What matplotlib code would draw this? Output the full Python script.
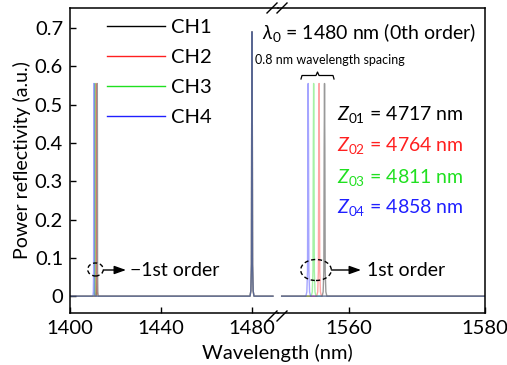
import numpy as np
import matplotlib.pyplot as plt
from matplotlib.patches import Ellipse
from matplotlib.lines import Line2D

plt.rcParams["font.family"] = ["Lato", "DejaVu Sans"]
plt.rcParams["mathtext.fontset"] = "custom"
plt.rcParams["mathtext.rm"] = "Lato"
plt.rcParams["mathtext.it"] = "Lato:italic"

W, H = 507, 365

channels = ["CH1", "CH2", "CH3", "CH4"]
colors = ["#000000", "#ff2020", "#20e020", "#2020ff"]
z_labels = ["01", "02", "03", "04"]
z_periods = [4717, 4764, 4811, 4858]

# peak centres (nm) and heights for each diffraction order, CH1..CH4
centers_m1 = [1412.0, 1411.5, 1411.0, 1410.5]
centers_0 = [1480.0, 1480.0, 1480.0, 1480.0]
centers_p1 = [1556.4, 1555.6, 1554.8, 1554.0]
height_m1 = [0.555, 0.555, 0.555, 0.555]
height_0 = [0.69, 0.69, 0.69, 0.69]
height_p1 = [0.555, 0.555, 0.555, 0.555]

# peak profile: offset from centre (nm), fraction of peak
shape_dx = [-0.35, -0.2, -0.1, -0.05, 0.0, 0.05, 0.1, 0.2, 0.35]
shape_y = [0.0, 0.02, 0.12, 0.7, 1.0, 0.7, 0.12, 0.02, 0.0]
width_m1, width_0, width_p1 = 1.2, 2.5, 1.0

left_range = (1400.0, 1489.2)
right_range = (1550.1, 1580.0)

yticks = [0, 0.1, 0.2, 0.3, 0.4, 0.5, 0.6, 0.7]
ytick_labels = ["0", "0.1", "0.2", "0.3", "0.4", "0.5", "0.6", "0.7"]
xticks_left = [1400, 1440, 1480]
xticks_right = [1560, 1580]


def fx(x):
    return x / W


def fy(y):
    return 1 - y / H


def peak(c, h, w):
    xs = [c + w * d for d in shape_dx]
    ys = [h * s for s in shape_y]
    return xs, ys


fig = plt.figure(figsize=(W / 100, H / 100), dpi=100)
x_split = 278
ax1 = fig.add_axes([fx(70), fy(313), fx(x_split - 70), (313 - 8) / H])
ax2 = fig.add_axes([fx(x_split), fy(313), fx(485 - x_split), (313 - 8) / H], sharey=ax1)
ax1.set_facecolor("none")
ax2.set_facecolor("none")

for i, ch in enumerate(channels):
    xm, ym = peak(centers_m1[i], height_m1[i], width_m1)
    x0, y0 = peak(centers_0[i], height_0[i], width_0)
    xl = [left_range[0]] + xm + x0 + [left_range[1]]
    yl = [0.0] + ym + y0 + [0.0]
    ax1.plot(xl, yl, color=colors[i], lw=1.0, alpha=0.4, label=ch)
    xp, yp = peak(centers_p1[i], height_p1[i], width_p1)
    xr = [right_range[0]] + xp + [right_range[1]]
    yr = [0.0] + yp + [0.0]
    ax2.plot(xr, yr, color=colors[i], lw=1.0, alpha=0.4)

ax1.set_xlim(1400, 1400 + (x_split - 70) / 2.275)
ax2.set_xlim(1560 - (349 - x_split) / 6.8, 1580)
ax1.set_ylim(-0.044, 0.752)

for ax in (ax1, ax2):
    for s in ax.spines.values():
        s.set_linewidth(1.1)
    ax.tick_params(direction="in", length=4, width=1.0, labelsize=14.5, top=False, right=False)
ax1.spines["right"].set_visible(False)
ax2.spines["left"].set_visible(False)
ax2.tick_params(axis="y", left=False, labelleft=False)
ax1.set_yticks(yticks)
ax1.set_yticklabels(ytick_labels)
ax1.set_xticks(xticks_left)
ax1.set_xticklabels([str(t) for t in xticks_left])
ax2.set_xticks(xticks_right)
ax2.set_xticklabels([str(t) for t in xticks_right])
ax1.tick_params(axis="x", pad=5)
ax2.tick_params(axis="x", pad=5)
ax1.tick_params(axis="y", pad=5)

ax1.set_ylabel("Power reflectivity (a.u.)", fontsize=14, labelpad=3)
fig.text(fx(277), fy(353), "Wavelength (nm)", fontsize=14.5, ha="center", va="center")

leg = ax1.legend(loc="upper left", bbox_to_anchor=(0.178, 0.965), frameon=False,
                 fontsize=14.5, handlelength=2.9, handletextpad=0.3, labelspacing=0.64,
                 borderpad=0, borderaxespad=0)
for h in leg.legend_handles:
    h.set_alpha(1)
    h.set_linewidth(1.0)

# break marks on top and bottom spines
for yb in (316, 8):
    for x0 in (267, 277):
        fig.add_artist(Line2D([fx(x0), fx(x0 + 10)], [fy(yb + 5), fy(yb - 5)],
                              color="black", lw=1.0))

fig.text(fx(262), fy(33), r"$\lambda_0$ = 1480 nm (0th order)", fontsize=14,
         ha="left", va="center")
fig.text(fx(255), fy(60), "0.8 nm wavelength spacing", fontsize=9, ha="left", va="center")

# curly brace over the 1st-order peaks
bx = [301, 302, 316, 317.5, 319, 333, 334]
by = [79, 75.5, 75.5, 72, 75.5, 75.5, 79]
fig.add_artist(Line2D([fx(v) for v in bx], [fy(v) for v in by], color="black", lw=0.9))

for i in range(4):
    fig.text(fx(337), fy(115 + 31 * i), rf"$Z_{{{z_labels[i]}}}$ = {z_periods[i]} nm",
             fontsize=14, color=colors[i] if i else "black", ha="left", va="center")

# order markers
fig.add_artist(Ellipse((fx(95.5), fy(269.5)), fx(15.6), 13 / H, fill=False,
                       ls=(0, (3, 2)), lw=1.0, color="black"))
fig.add_artist(Ellipse((fx(316), fy(270)), fx(30.6), 21 / H, fill=False,
                       ls=(0, (3, 2)), lw=1.0, color="black"))
for ax, xa, xb, yy in ((ax1, 103.5, 126, 270), (ax2, 331.5, 361, 270)):
    ax.annotate("", xy=(fx(xb), fy(yy)), xytext=(fx(xa), fy(yy)),
                xycoords="figure fraction", textcoords="figure fraction",
                annotation_clip=False,
                arrowprops=dict(arrowstyle="-|>,head_length=0.7,head_width=0.25",
                                color="black", lw=1.0, shrinkA=0, shrinkB=0))
fig.text(fx(130), fy(270), "\u22121st order", fontsize=14, ha="left", va="center")
fig.text(fx(367), fy(270), "1st order", fontsize=14, ha="left", va="center")

fig.savefig("out.png", dpi=100)
